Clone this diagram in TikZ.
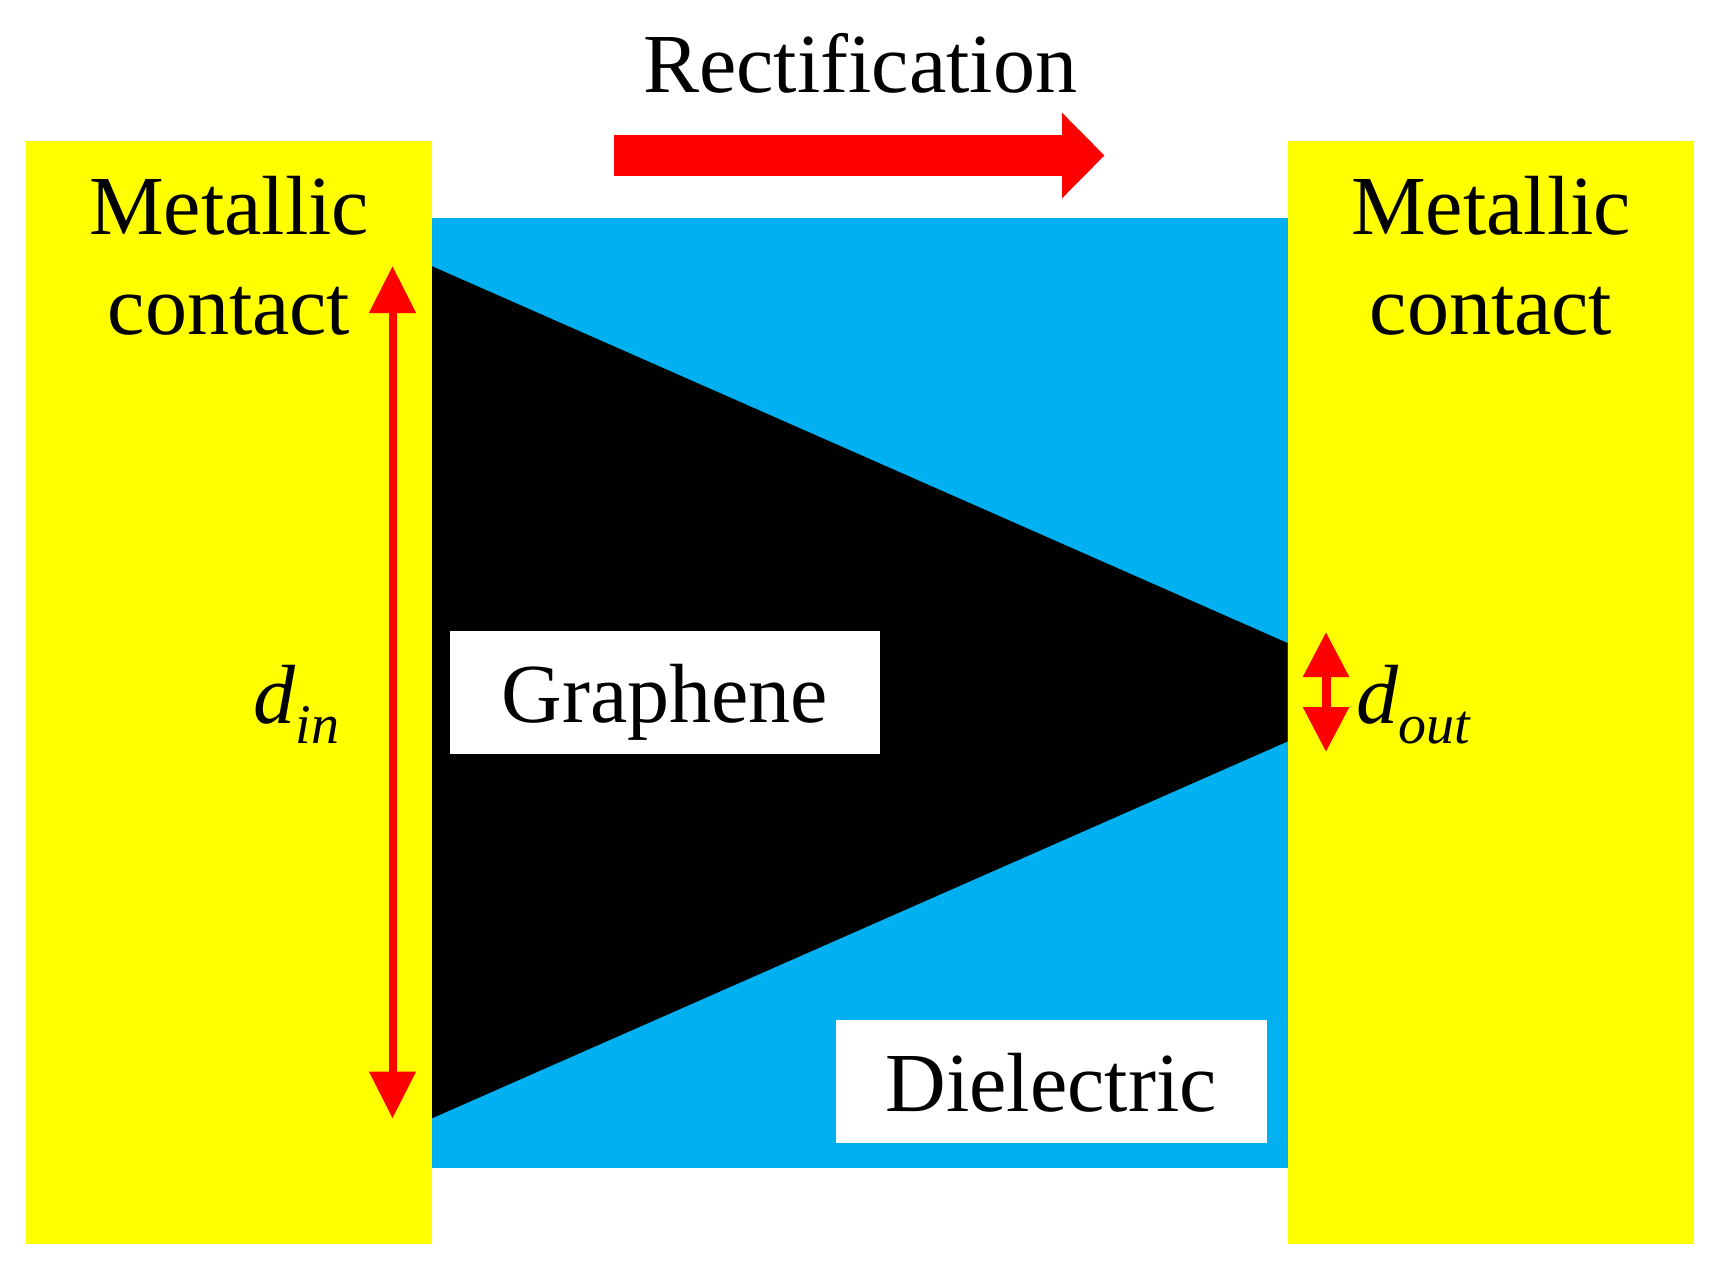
\documentclass[tikz,border=0pt]{standalone}
\usepackage{fontspec}
\setmainfont{Liberation Serif}
\usetikzlibrary{arrows.meta}
\definecolor{metal}{HTML}{FFFF00}
\definecolor{diel}{HTML}{00B0F0}
\tikzset{
  x=1pt,y=-1pt,
  lab/.style={inner sep=0pt,outer sep=0pt,anchor=base,font=\fontsize{84}{90}\selectfont},
  labw/.style={inner sep=0pt,outer sep=0pt,anchor=base west,font=\fontsize{84}{90}\selectfont\itshape},
  whitebox/.style={fill=white,draw=none},
  redarrow/.style={draw=red,line width=#1},
}
\newcommand{\subtxt}[1]{\raisebox{-20pt}{\fontsize{56}{60}\selectfont #1}}
\begin{document}
\begin{tikzpicture}
\useasboundingbox (0,0) rectangle (1713,1268);
\fill[white] (0,0) rectangle (1713,1268);
% dielectric, graphene
\fill[diel] (431.5,218.5) rectangle (1287.5,1167.5);
\fill[black] (431.5,266) -- (1287.5,643) -- (1287.5,741.5) -- (431.5,1118.5) -- cycle;
% contacts
\fill[metal] (26,141.5) rectangle (431.5,1243.5);
\fill[metal] (1287.5,141.5) rectangle (1694,1243.5);
% white label boxes
\fill[whitebox] (450,630.5) rectangle (880,754);
\fill[whitebox] (836,1019.5) rectangle (1267,1143);
% labels
\node[lab] (rect) at (860,93) {Rectification};
\node[lab] (m1) at (229,234.5) {Metallic};
\node[lab] (c1) at (229,334) {contact};
\node[lab] (m2) at (1491,234.5) {Metallic};
\node[lab] (c2) at (1491,334) {contact};
\node[lab] (gr) at (665,722) {Graphene};
\node[lab] (di) at (1051,1111) {Dielectric};
\node[labw] (din) at (253.5,723) {d\subtxt{in}};
\node[labw] (dout) at (1356,723) {d\subtxt{out}};
% arrows
\coordinate (ra) at (614,155.5);
\coordinate (rb) at (1104.5,155.5);
\draw[redarrow=40.5pt,-{Triangle[length=42.5pt,width=83pt]}] (ra) -- (rb);
\coordinate (la) at (392.5,266);
\coordinate (lb) at (392.5,1118.5);
\draw[redarrow=8pt,{Triangle[length=47pt,width=45pt]}-{Triangle[length=47pt,width=45pt]}] (la) -- (lb);
\coordinate (sa) at (1326,632);
\coordinate (sb) at (1326,752);
\draw[redarrow=9pt,{Triangle[length=45pt,width=44pt]}-{Triangle[length=45pt,width=44pt]}] (sa) -- (sb);
\end{tikzpicture}
\end{document}
